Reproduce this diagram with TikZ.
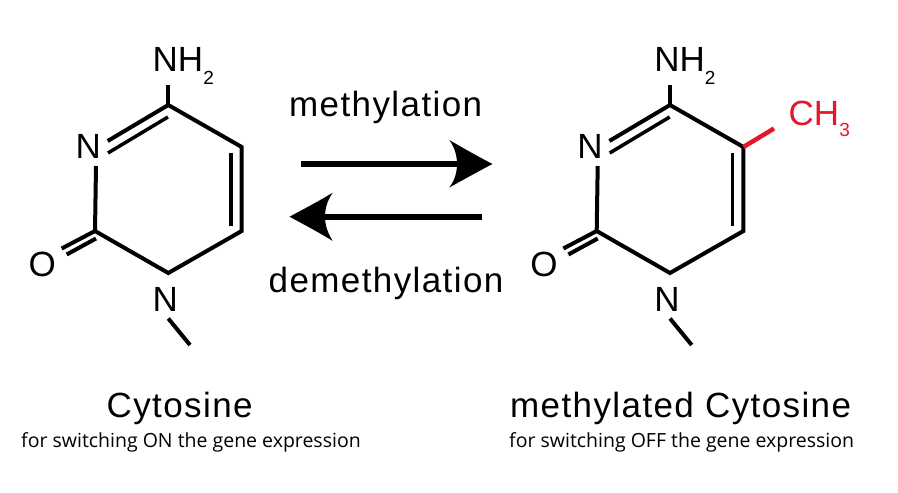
\documentclass[tikz,border=0pt]{standalone}
\usepackage{fontspec}
\setmainfont{Liberation Sans}
\newfontfamily\wideface[LetterSpace=4]{Liberation Sans}
\newfontfamily\noteface{Open Sans}
\definecolor{methylred}{HTML}{E3172B}
\tikzset{
  atomlabel/.style={inner sep=0pt,anchor=base west,font=\fontsize{35}{35}\selectfont},
  caption/.style={inner sep=0pt,anchor=base west,font=\wideface\fontsize{35}{35}\selectfont},
  note/.style={inner sep=0pt,anchor=base west,font=\noteface\fontsize{19.5}{20}\selectfont},
  bond/.style={line width=4pt,line join=miter,line cap=butt},
  shaft/.style={line width=6pt},
  cytosine/.pic={
    \coordinate (-c4) at (168.3,105);
    \coordinate (-c5) at (241.7,147);
    \coordinate (-c6) at (241.7,231);
    \coordinate (-n1) at (168.3,273);
    \coordinate (-c2) at (95,231);
    \coordinate (-n3) at (96,166);
    \coordinate (-n3d) at (107.7,141);
    \coordinate (-i1) at (108,153);
    \coordinate (-i2) at (168,117);
    \coordinate (-i3) at (231,153);
    \coordinate (-i4) at (231,226);
    \coordinate (-nh) at (168.3,85);
    \coordinate (-o1) at (61.7,248.5);
    \coordinate (-o2) at (96,238.5);
    \coordinate (-o3) at (66.7,254.5);
    \coordinate (-m1) at (168.3,318.5);
    \coordinate (-m2) at (190,345);
    \node[atomlabel] (-lnh) at (152.5,71.5) {NH\raisebox{-13pt}{\fontsize{19}{19}\selectfont 2}};
    \node[atomlabel] (-ln3) at (75.5,158) {N};
    \node[atomlabel] (-lo) at (28.5,276) {O};
    \node[atomlabel] (-ln1) at (152.5,311.5) {N};
    \draw[bond] (-n3d) -- (-c4) -- (-c5) -- (-c6) -- (-n1) -- (-c2) -- (-n3);
    \draw[bond] (-c4) -- (-nh);
    \draw[bond,line width=3.5pt] (-i1) -- (-i2);
    \draw[bond,line width=3.5pt] (-i3) -- (-i4);
    \draw[bond] (-c2) -- (-o1);
    \draw[bond] (-o2) -- (-o3);
    \draw[bond] (-m1) -- (-m2);
  }
}
\begin{document}
\begin{tikzpicture}[x=1pt,y=-1pt]
\useasboundingbox (0,0) rectangle (898,493);
\fill[white] (0,0) rectangle (898,493);
\pic (A) at (0,0) {cytosine};
\pic (B) at (501.7,0) {cytosine};
% methyl
\coordinate (ch3) at (774,128.5);
\draw[bond,methylred,line width=4.5pt] (B-c5) -- (ch3);
\node[atomlabel,text=methylred] (ch3label) at (788.5,125) {CH\raisebox{-11.7pt}{\fontsize{19}{19}\selectfont 3}};
% arrows
\coordinate (a1s) at (300.7,164);
\coordinate (a1e) at (457,164);
\coordinate (a1t) at (492.5,164);
\coordinate (a2s) at (481.7,216.7);
\coordinate (a2e) at (325,216.7);
\coordinate (a2t) at (289.5,216.7);
\draw[shaft] (a1s) -- (a1e);
\draw[shaft] (a2s) -- (a2e);
\fill (a1t)
  .. controls (478,156.5) and (463,148) .. (449.3,140)
  .. controls (455,148) and (457,156) .. (a1e)
  .. controls (457,172) and (455,180) .. (449.3,187.5)
  .. controls (463,180) and (478,171.5) .. (a1t) -- cycle;
\fill (a2t)
  .. controls (304,209) and (319,201) .. (332.7,192.7)
  .. controls (327,201) and (325,209) .. (a2e)
  .. controls (325,224) and (327,232) .. (332.7,240.9)
  .. controls (319,232.5) and (304,224.5) .. (a2t) -- cycle;
% labels
\node[caption] (meth) at (289,116.9) {methylation};
\node[caption] (demeth) at (268.5,292.7) {demethylation};
\node[caption] (cyt) at (106.5,417.2) {Cytosine};
\node[caption] (mcyt) at (510,417.2) {methylated Cytosine};
\node[note] (n1) at (21,447.7) {for switching ON the gene expression};
\node[note] (n2) at (509,447.7) {for switching OFF the gene expression};
\end{tikzpicture}
\end{document}
